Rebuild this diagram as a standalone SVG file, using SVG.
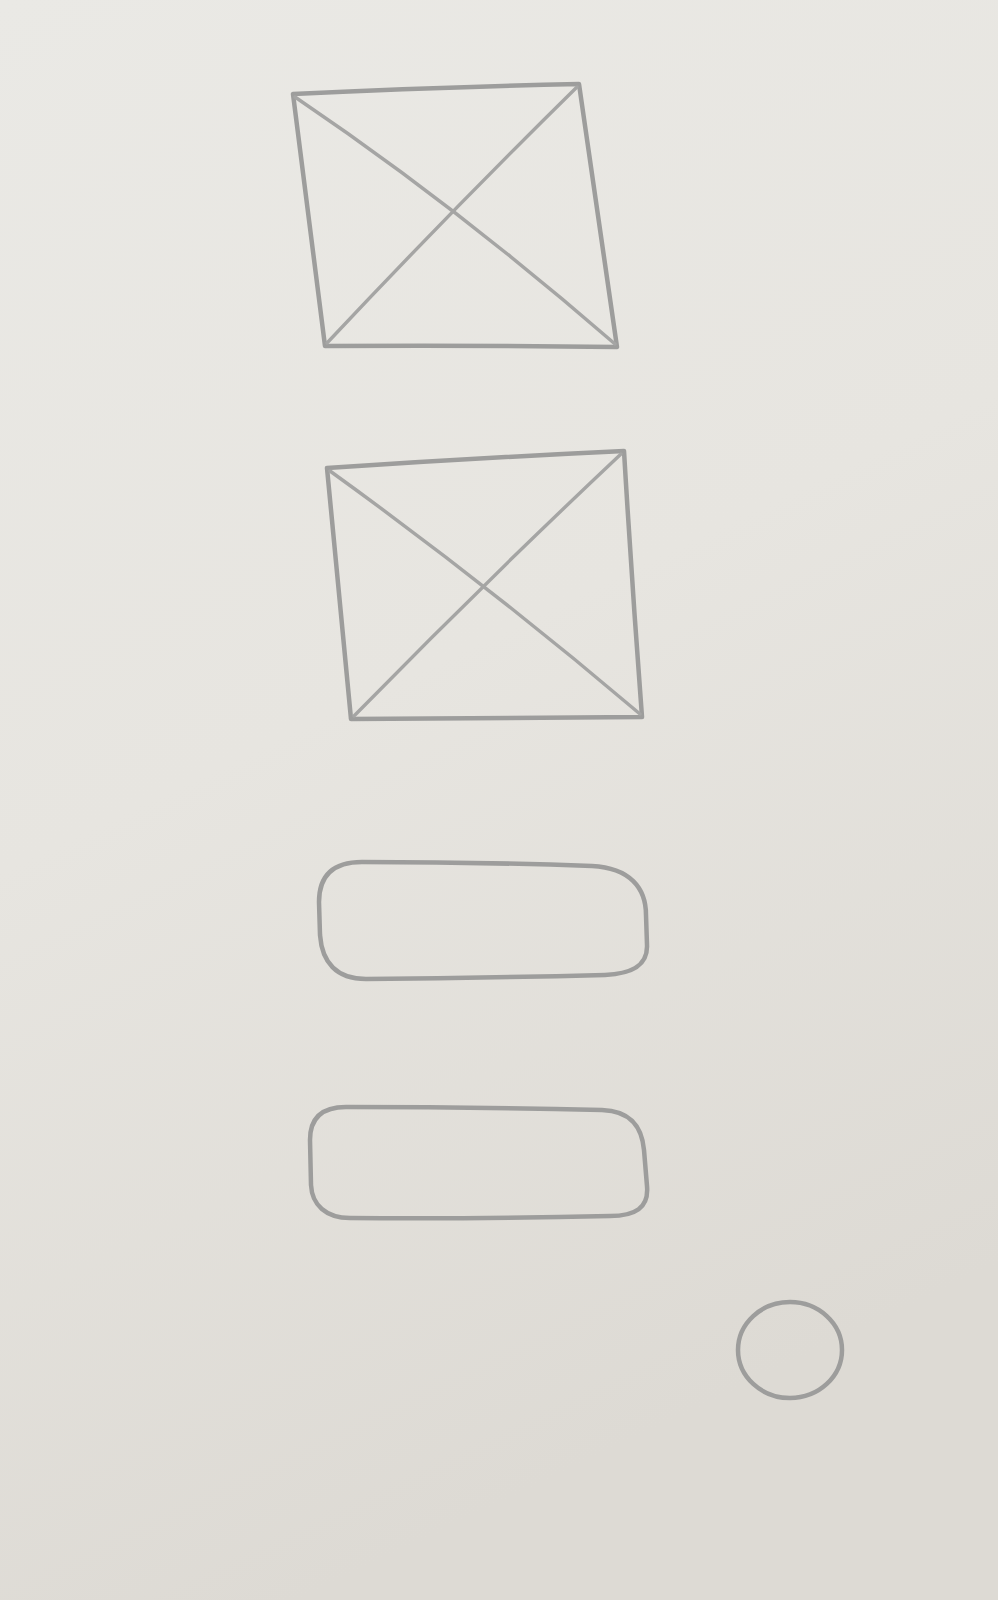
<svg xmlns="http://www.w3.org/2000/svg" width="998" height="1600" viewBox="0 0 998 1600">
<defs>
<linearGradient id="paper" x1="0" y1="0" x2="0.3" y2="1">
<stop offset="0" stop-color="#eae9e5"/>
<stop offset="0.5" stop-color="#e7e5e0"/>
<stop offset="1" stop-color="#dddad4"/>
</linearGradient>
<style>
.s{fill:none;stroke:#9d9d9c;stroke-width:4.5;stroke-linecap:round;stroke-linejoin:round}
.t{fill:none;stroke:#a5a5a4;stroke-width:3.4;stroke-linecap:round}
</style>
</defs>
<rect width="998" height="1600" fill="url(#paper)"/>
<g id="image-placeholder-1">
<path class="s" d="M293,94 Q440,87 579,84 Q598,215 617,347 Q470,345 325,346 Q309,220 293,94 Z"/>
<path class="t" d="M295,97 Q455,205 615,344"/>
<path class="t" d="M577,87 Q450,212 327,343"/>
</g>
<g id="image-placeholder-2">
<path class="s" d="M327,468 Q476,458 624,451 Q632,585 642,717 Q496,718 351,719 Q339,595 327,468 Z"/>
<path class="t" d="M330,471 Q488,585 640,714"/>
<path class="t" d="M621,454 Q485,582 354,716"/>
</g>
<g id="button-1">
<path class="s" d="M362,862 Q480,862 592,866 C630,868 646,888 646,915 L647,945 C648,968 628,974 605,975 Q485,978 366,979 C336,979 322,962 320,935 L319,902 C319,876 333,862 362,862 Z"/>
</g>
<g id="button-2">
<path class="s" d="M346,1107 Q475,1107 602,1110 C632,1111 642,1128 644,1150 L647,1186 C649,1208 635,1216 610,1216 Q480,1219 350,1218 C326,1218 312,1205 311,1185 L310,1140 C310,1118 322,1107 346,1107 Z"/>
</g>
<g id="circle">
<ellipse class="s" cx="790" cy="1350" rx="52" ry="48"/>
</g>
</svg>
